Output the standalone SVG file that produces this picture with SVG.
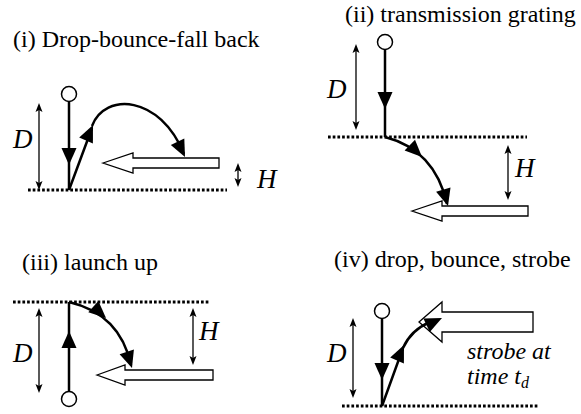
<svg xmlns="http://www.w3.org/2000/svg" width="581" height="414" viewBox="0 0 581 414">
<rect width="581" height="414" fill="#fff"/>

<g id="panel-i">
<g id="i-ground" fill="none" stroke="#000" stroke-width="3" stroke-dasharray="2.7 2"><line x1="28" y1="190" x2="227" y2="190"/></g>
<g id="i-beam" fill="#fff" stroke="#000" stroke-width="1.3"><polygon points="103,163 133,153 133,158 219,158 219,168 133,168 133,173"/></g>
<g id="i-connectors">
<g fill="none" stroke="#000" stroke-width="2.5">
<line x1="69" y1="102" x2="69" y2="190"/>
<path d="M69,190 L92,128 M92,126 C105,92 160,95 184,154"/>
</g>
<g fill="#000">
<polygon points="69,165 76.5,148 61.5,148"/>
<polygon points="93,125 79.2,137.5 92.9,143.6"/>
<polygon points="185,157 184.3,138.4 170.8,145"/>
</g>
<g fill="none" stroke="#000" stroke-width="1.3">
<line x1="39" y1="109" x2="39" y2="184"/>
<line x1="238" y1="169" x2="238" y2="181"/>
</g>
<g fill="#000">
<polygon points="39,103 42.5,112 39,110 35.5,112"/>
<polygon points="39,190 42.5,181 39,183 35.5,181"/>
<polygon points="238,163 241.5,172 238,170 234.5,172"/>
<polygon points="238,187 241.5,178 238,180 234.5,178"/>
</g>
</g>
<g id="i-ball"><circle cx="69" cy="94" r="7.5" fill="#fff" stroke="#000" stroke-width="1.5"/></g>
</g>

<g id="panel-ii">
<g id="ii-ground" fill="none" stroke="#000" stroke-width="3" stroke-dasharray="2.7 2"><line x1="328" y1="137" x2="527" y2="137"/></g>
<g id="ii-beam" fill="#fff" stroke="#000" stroke-width="1.3"><polygon points="412,211 442,201 442,206 528,206 528,216 442,216 442,221"/></g>
<g id="ii-connectors">
<g fill="none" stroke="#000" stroke-width="2.5">
<line x1="385" y1="49" x2="385" y2="137"/>
<path d="M385,137 Q435,150 447,204"/>
</g>
<g fill="#000">
<polygon points="385,109 392.5,92 377.5,92"/>
<polygon points="422,157 415,139.8 404.6,150.6"/>
<polygon points="448,206 450.5,187.6 436.1,191.7"/>
</g>
<g fill="none" stroke="#000" stroke-width="1.3">
<line x1="356" y1="50" x2="356" y2="124"/>
<line x1="508" y1="151" x2="508" y2="194"/>
</g>
<g fill="#000">
<polygon points="356,44 359.5,53 356,51 352.5,53"/>
<polygon points="356,130 359.5,121 356,123 352.5,121"/>
<polygon points="508,145 511.5,154 508,152 504.5,154"/>
<polygon points="508,200 511.5,191 508,193 504.5,191"/>
</g>
</g>
<g id="ii-ball"><circle cx="385" cy="42" r="7.5" fill="#fff" stroke="#000" stroke-width="1.5"/></g>
</g>

<g id="panel-iii">
<g id="iii-ground" fill="none" stroke="#000" stroke-width="3" stroke-dasharray="2.7 2"><line x1="13" y1="302" x2="210" y2="302"/></g>
<g id="iii-beam" fill="#fff" stroke="#000" stroke-width="1.3"><polygon points="97,375 125,365 125,370 213,370 213,380 125,380 125,385"/></g>
<g id="iii-connectors">
<g fill="none" stroke="#000" stroke-width="2.5">
<line x1="69" y1="302" x2="69" y2="391"/>
<path d="M69,302 Q120,314 131,365"/>
</g>
<g fill="#000">
<polygon points="69,331 61.5,348 76.5,348"/>
<polygon points="106,318 98.4,301.1 88.3,312.2"/>
<polygon points="132,368 133.9,349.5 119.6,354.2"/>
</g>
<g fill="none" stroke="#000" stroke-width="1.3">
<line x1="39" y1="314" x2="39" y2="387"/>
<line x1="193" y1="314" x2="193" y2="359"/>
</g>
<g fill="#000">
<polygon points="39,308 42.5,317 39,315 35.5,317"/>
<polygon points="39,393 42.5,384 39,386 35.5,384"/>
<polygon points="193,308 196.5,317 193,315 189.5,317"/>
<polygon points="193,365 196.5,356 193,358 189.5,356"/>
</g>
</g>
<g id="iii-ball"><circle cx="69" cy="399" r="7.5" fill="#fff" stroke="#000" stroke-width="1.5"/></g>
</g>

<g id="panel-iv">
<g id="iv-ground" fill="none" stroke="#000" stroke-width="3" stroke-dasharray="2.7 2"><line x1="342" y1="406" x2="538" y2="406"/></g>
<g id="iv-beam" fill="#fff" stroke="#000" stroke-width="1.3"><polygon points="419,322 442,302 442,312 533,312 533,332 442,332 442,342"/></g>
<g id="iv-connectors">
<g fill="none" stroke="#000" stroke-width="2.5">
<line x1="382" y1="319" x2="382" y2="406"/>
<path d="M382,406 L403,348 Q411,330 430,322"/>
</g>
<g fill="#000">
<polygon points="382,380 389.5,363 374.5,363"/>
<polygon points="404,345 390.2,357.5 403.9,363.6"/>
<polygon points="442,318 423.4,318.4 429.8,332"/>
</g>
<g fill="none" stroke="#000" stroke-width="1.3">
<line x1="353" y1="324" x2="353" y2="392"/>
</g>
<g fill="#000">
<polygon points="353,318 356.5,327 353,325 349.5,327"/>
<polygon points="353,398 356.5,389 353,391 349.5,389"/>
</g>
</g>
<g id="iv-ball"><circle cx="382" cy="311" r="7.5" fill="#fff" stroke="#000" stroke-width="1.5"/></g>
</g>

<text x="13" y="47" style="font-family:'Liberation Serif';font-size:24px">(i) Drop-bounce-fall back</text>
<text x="13" y="148" style="font-family:'Liberation Serif';font-size:27px;font-style:italic">D</text>
<text x="257" y="188" style="font-family:'Liberation Serif';font-size:27px;font-style:italic">H</text>
<text x="345" y="22" style="font-family:'Liberation Serif';font-size:24px">(ii) transmission grating</text>
<text x="327" y="98" style="font-family:'Liberation Serif';font-size:27px;font-style:italic">D</text>
<text x="515" y="177" style="font-family:'Liberation Serif';font-size:27px;font-style:italic">H</text>
<text x="22" y="270" style="font-family:'Liberation Serif';font-size:24px">(iii) launch up</text>
<text x="13" y="362" style="font-family:'Liberation Serif';font-size:27px;font-style:italic">D</text>
<text x="199" y="340" style="font-family:'Liberation Serif';font-size:27px;font-style:italic">H</text>
<text x="334" y="267" style="font-family:'Liberation Serif';font-size:24px">(iv) drop, bounce, strobe</text>
<text x="327" y="362" style="font-family:'Liberation Serif';font-size:27px;font-style:italic">D</text>
<text x="467" y="359" style="font-family:'Liberation Serif';font-size:24px;font-style:italic">strobe at</text>
<text x="467" y="384" style="font-family:'Liberation Serif';font-size:24px;font-style:italic">time t<tspan dy="4" style="font-size:16px">d</tspan></text>
</svg>
